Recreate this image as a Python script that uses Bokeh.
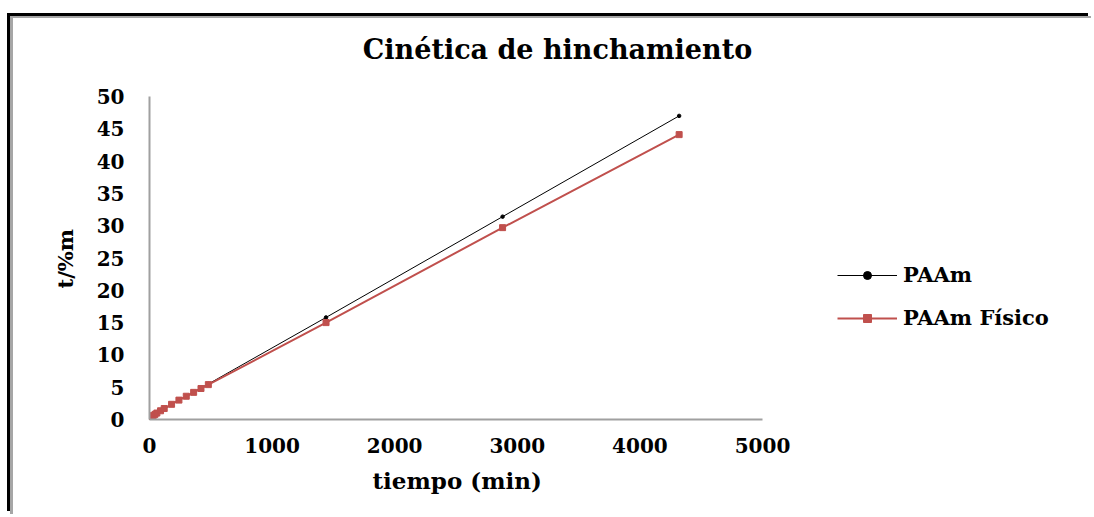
from bokeh.plotting import figure
from bokeh.models import Range1d, FixedTicker, Legend, LegendItem, Label, Title
from bokeh.embed import file_html
from bokeh.resources import INLINE

# ---- data ----
tiempo = [5, 10, 20, 30, 45, 60, 90, 120, 180, 240, 300, 360, 420, 480, 1440, 2880, 4320]
paam = [0.15, 0.25, 0.4, 0.55, 0.75, 0.95, 1.3, 1.65, 2.3, 2.95, 3.55, 4.2, 4.9, 5.5, 15.8, 31.4, 47.0]
paam_fisico = [0.2, 0.3, 0.45, 0.6, 0.8, 1.0, 1.35, 1.7, 2.35, 3.0, 3.6, 4.2, 4.8, 5.4, 15.0, 29.7, 44.1]
x_ticks = [0, 1000, 2000, 3000, 4000, 5000]
y_ticks = [0, 5, 10, 15, 20, 25, 30, 35, 40, 45, 50]
x_max, y_max = 5000, 50

FONT = "DejaVu Serif"
W, H = 1081, 498
# pixel box of the axes area (0..x_max, 0..y_max) inside the canvas
AL, AR, AT, AB = 136, 749, 78, 401

# the frame is stretched to the canvas top/right so that title & legend are not clipped
x_end = x_max * (W - AL) / (AR - AL)
y_end = y_max * AB / (AB - AT)

p = figure(width=W, height=H, output_backend="svg", toolbar_location=None,
           x_range=Range1d(0, x_end), y_range=Range1d(0, y_end),
           min_border_left=AL, min_border_right=0,
           min_border_top=0, min_border_bottom=H - AB)
p.styles = {"margin-left": "10px", "margin-top": "16px",
            "border-left": "3px solid #a6a6a6", "border-top": "2px solid #a6a6a6",
            "box-shadow": "-3px -3px 0 0 black",
            "background-color": "white"}
p.outline_line_color = None
p.grid.visible = False
p.background_fill_color = None
p.border_fill_color = "white"

for ax in (p.xaxis[0], p.yaxis[0]):
    ax.axis_line_color = "#a0a0a0"
    ax.axis_line_width = 2
    ax.major_tick_line_color = None
    ax.minor_tick_line_color = None
    ax.major_tick_out = 0
    ax.major_tick_in = 0
    ax.major_label_text_font = FONT
    ax.major_label_text_font_style = "bold"
    ax.major_label_text_font_size = "20px"
    ax.major_label_text_color = "black"

p.xaxis.bounds = (0, x_max)
p.yaxis.bounds = (0, y_max)
p.xaxis.ticker = FixedTicker(ticks=x_ticks)
p.yaxis.ticker = FixedTicker(ticks=y_ticks)
p.xaxis.major_label_standoff = 18
p.yaxis.major_label_standoff = 25

# axis titles (placed as side titles so they centre on the axes, not on the stretched frame)
xlab = Title(text="tiempo (min)", align="left", offset=223, standoff=18,
             text_font=FONT, text_font_style="bold", text_font_size="23px", text_color="black")
p.add_layout(xlab, "below")
ylab = Title(text="t/%m", align="left", offset=131, standoff=32,
             text_font=FONT, text_font_style="bold", text_font_size="21px", text_color="black")
p.add_layout(ylab, "left")

l1 = p.line(tiempo, paam, line_color="black", line_width=1)
m1 = p.scatter(tiempo, paam, marker="circle", size=3.5, fill_color="black", line_color="black")
l2 = p.line(tiempo, paam_fisico, line_color="#C0504D", line_width=2)
m2 = p.scatter(tiempo, paam_fisico, marker="square", size=6, fill_color="#C0504D", line_color="#C0504D")

legend = Legend(items=[LegendItem(label="PAAm", renderers=[l1, m1]),
                       LegendItem(label="PAAm Físico", renderers=[l2, m2])],
                location=(824 - AL, AB - 312), orientation="vertical")
legend.glyph_width = 60
legend.glyph_height = 20
legend.label_height = 20
legend.spacing = 18
legend.padding = 0
legend.margin = 0
legend.label_standoff = 6
legend.border_line_color = None
legend.background_fill_alpha = 0
legend.label_text_font = FONT
legend.label_text_font_style = "bold"
legend.label_text_font_size = "21px"
legend.label_text_color = "black"
p.add_layout(legend, "center")

title = Label(x=544 - AL, y=AB - 31, x_units="screen", y_units="screen",
              text="Cinética de hinchamiento", text_font=FONT, text_font_style="bold",
              text_font_size="27px", text_align="center", text_baseline="middle",
              text_color="black")
p.add_layout(title)

open("out.html", "w").write(file_html(p, INLINE))
